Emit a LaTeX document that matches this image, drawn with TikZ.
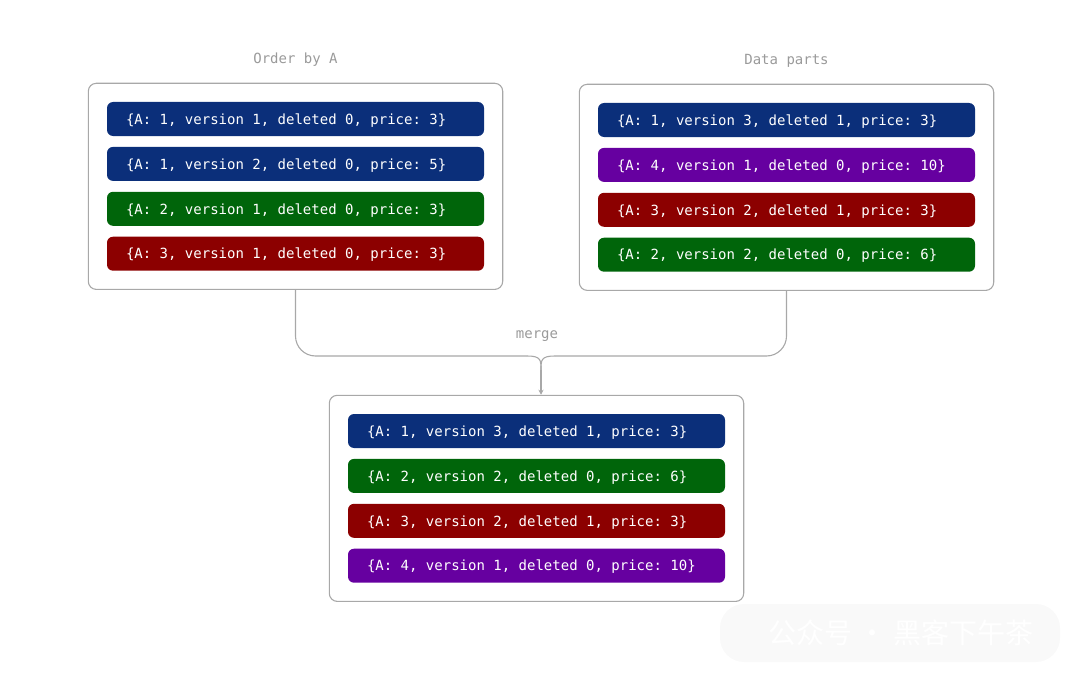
\documentclass[tikz,border=0pt]{standalone}
\usepackage{fontspec}
\setmonofont{DejaVu Sans Mono}
\newfontfamily\cjk{Noto Sans CJK SC}
\usetikzlibrary{arrows.meta, positioning, fit}
\definecolor{rowblue}{HTML}{0B2F7A}
\definecolor{rowgreen}{HTML}{00650A}
\definecolor{rowred}{HTML}{8C0000}
\definecolor{rowpurple}{HTML}{6600A0}
\definecolor{boxgray}{HTML}{A8A8A8}
\definecolor{labelgray}{HTML}{9A9A9A}

\begin{document}
\begin{tikzpicture}[>=Stealth, x=1pt, y=-1pt,
  rec/.style={rounded corners=6pt, text=white, inner xsep=19pt, inner ysep=0pt,
              text width=339pt, minimum height=34pt, align=flush left,
              text height=12.5pt, text depth=2pt,
              font=\ttfamily\fontsize{14}{16}\selectfont},
  part/.style={draw=boxgray, line width=1.1pt, rounded corners=8pt, inner sep=18.5pt},
  caption/.style={text=labelgray, inner sep=0pt, font=\ttfamily\fontsize{14}{16}\selectfont},
  link/.style={draw=boxgray, line width=1.1pt}]
  \useasboundingbox (0,0) rectangle (1080,677);

  % Order by A
  \node[rec, fill=rowblue] (l1) at (295.5,119) {\{A: 1, version 1, deleted 0, price: 3\}};
  \node[rec, fill=rowblue, below=10.5pt of l1] (l2) {\{A: 1, version 2, deleted 0, price: 5\}};
  \node[rec, fill=rowgreen, below=10.5pt of l2] (l3) {\{A: 2, version 1, deleted 0, price: 3\}};
  \node[rec, fill=rowred, below=10.5pt of l3] (l4) {\{A: 3, version 1, deleted 0, price: 3\}};
  \node[part, fit=(l1)(l4)] (order) {};
  \node[caption, above=16pt of order] (ordertitle) {Order by A};

  % Data parts
  \node[rec, fill=rowblue] (r1) at (786.5,120) {\{A: 1, version 3, deleted 1, price: 3\}};
  \node[rec, fill=rowpurple, below=10.5pt of r1] (r2) {\{A: 4, version 1, deleted 0, price: 10\}};
  \node[rec, fill=rowred, below=10.5pt of r2] (r3) {\{A: 3, version 2, deleted 1, price: 3\}};
  \node[rec, fill=rowgreen, below=10.5pt of r3] (r4) {\{A: 2, version 2, deleted 0, price: 6\}};
  \node[part, fit=(r1)(r4)] (parts) {};
  \node[caption, above=16pt of parts] (partstitle) {Data parts};

  % Result
  \node[rec, fill=rowblue] (m1) at (536.5,431) {\{A: 1, version 3, deleted 1, price: 3\}};
  \node[rec, fill=rowgreen, below=10.5pt of m1] (m2) {\{A: 2, version 2, deleted 0, price: 6\}};
  \node[rec, fill=rowred, below=10.5pt of m2] (m3) {\{A: 3, version 2, deleted 1, price: 3\}};
  \node[rec, fill=rowpurple, below=10.5pt of m3] (m4) {\{A: 4, version 1, deleted 0, price: 10\}};
  \node[part, fit=(m1)(m4)] (result) {};

  % Merge
  \coordinate (lbend) at (527,356);
  \coordinate (rbend) at (555,356);
  \coordinate (join) at (541,370);
  \draw[link, rounded corners=20pt] (order.south) |- (lbend);
  \draw[link] (lbend) .. controls (541,356) and (541,360) .. (join);
  \draw[link, rounded corners=20pt] (parts.south) |- (rbend);
  \draw[link] (rbend) .. controls (541,356) and (541,360) .. (join);
  \draw[link, -{Stealth[length=5pt, width=5pt]}] (join) -- (join |- result.north);
  \node[caption] (mergelabel) at (537,336) {merge};

  % Watermark
  \node[fill=black!2.5, rounded corners=24pt, minimum width=340pt, minimum height=58pt,
        text=white, font=\cjk\fontsize{28}{30}\selectfont] (mark) at (890,633)
    {\hspace{22pt}公众号 · 黑客下午茶};
\end{tikzpicture}
\end{document}
